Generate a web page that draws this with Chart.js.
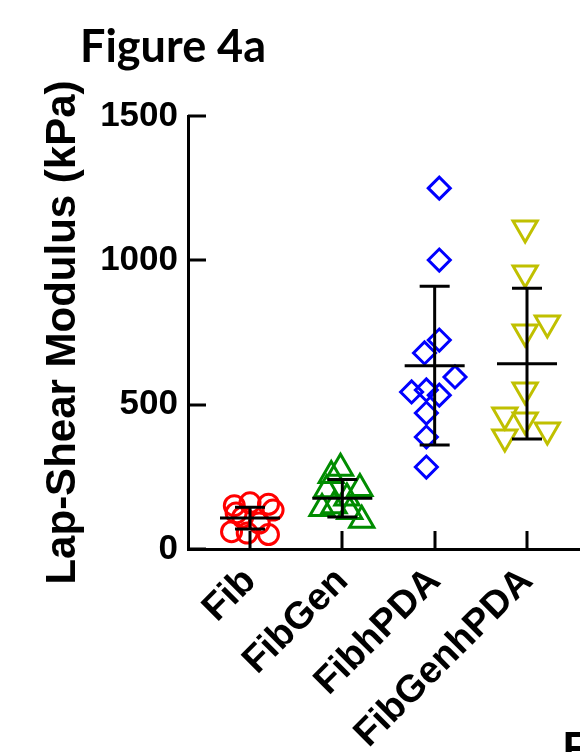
<!DOCTYPE html>
<html>
<head>
<meta charset="utf-8">
<script src="https://cdn.jsdelivr.net/npm/chart.js@4"></script>
<style>
  html, body { margin: 0; padding: 0; background: #fff; }
  canvas { display: block; }
</style>
</head>
<body>
<canvas id="fig4a" width="580" height="752"></canvas>
<script>
// categories and y ticks
var groups = ['Fib', 'FibGen', 'FibhPDA', 'FibGenhPDA'];
var yTicks = [0, 500, 1000, 1500];

// individual samples (kPa) + horizontal scatter offset (category units)
var fibVals = [160, 155, 150, 135, 125, 110, 90, 60, 55, 50];
var fibJitter = [0.0, 0.2, -0.17, 0.25, -0.15, -0.08, 0.1, -0.2, -0.03, 0.2];
var fibGenVals = [280, 255, 210, 205, 177, 150, 140, 130, 100];
var fibGenJitter = [-0.02, -0.12, 0.19, -0.17, 0.05, -0.09, -0.22, 0.08, 0.21];
var fibhPDAVals = [1250, 1001, 724, 679, 596, 544, 551, 533, 471, 388, 284];
var fibhPDAJitter = [0.05, 0.05, 0.05, -0.11, 0.22, -0.25, -0.09, 0.05, -0.09, -0.09, -0.09];
var fibGenhPDAVals = [1112, 956, 783, 752, 551, 464, 447, 412, 388];
var fibGenhPDAJitter = [-0.02, -0.02, 0.22, -0.02, -0.02, -0.24, -0.02, 0.22, -0.24];

// mean +/- SD bars
var groupMeans = [107, 176, 635, 642];
var groupSD = [38, 65, 275, 261];

function points(idx, vals, jit) {
  return vals.map(function(v, k) { return {x: idx + 1 + jit[k], y: v}; });
}

var axisFont = 'Liberation Sans, Arial, sans-serif';

var inwardTicks = {
  id: 'inwardTicks',
  afterDraw: function(chart) {
    var c = chart.ctx, xs = chart.scales.x, ys = chart.scales.y;
    var a = chart.chartArea;
    c.save();
    c.strokeStyle = '#000';
    c.lineWidth = 3;
    c.beginPath();
    yTicks.forEach(function(t) {
      var py = Math.round(ys.getPixelForValue(t));
      c.moveTo(a.left, py);
      c.lineTo(a.left + 18, py);
    });
    groups.forEach(function(g, i) {
      var px = Math.round(xs.getPixelForValue(i + 1));
      c.moveTo(px, a.bottom);
      c.lineTo(px, a.bottom - 18);
    });
    c.stroke();
    c.restore();
  }
};

var errorBars = {
  id: 'errorBars',
  afterDatasetsDraw: function(chart) {
    var c = chart.ctx, xs = chart.scales.x, ys = chart.scales.y;
    c.save();
    c.strokeStyle = '#000';
    c.lineWidth = 3;
    groups.forEach(function(g, i) {
      var px = xs.getPixelForValue(i + 1);
      var pm = ys.getPixelForValue(groupMeans[i]);
      var ph = ys.getPixelForValue(groupMeans[i] + groupSD[i]);
      var pl = ys.getPixelForValue(groupMeans[i] - groupSD[i]);
      c.beginPath();
      c.moveTo(px, ph); c.lineTo(px, pl);
      c.moveTo(px - 30, pm); c.lineTo(px + 30, pm);
      c.moveTo(px - 15, ph); c.lineTo(px + 15, ph);
      c.moveTo(px - 15, pl); c.lineTo(px + 15, pl);
      c.stroke();
    });
    c.restore();
  }
};

var figText = {
  id: 'figText',
  afterDraw: function(chart) {
    var c = chart.ctx;
    c.save();
    c.fillStyle = '#000';
    c.font = 'bold 45px Lato';
    c.textBaseline = 'alphabetic';
    c.fillText('Figure 4a', 80, 62);
    c.fillText('F', 562, 765);
    c.restore();
  }
};

var ctx = document.getElementById('fig4a');
var myChart = new Chart(ctx, {
  type: 'scatter',
  data: {
    datasets: [{
      data: points(0, fibVals, fibJitter),
      pointStyle: 'circle',
      pointRadius: 10,
      borderColor: 'rgb(255, 0, 0)'
    }, {
      data: points(1, fibGenVals, fibGenJitter),
      pointStyle: 'triangle',
      pointRadius: 14,
      borderColor: 'rgb(0, 140, 0)'
    }, {
      data: points(2, fibhPDAVals, fibhPDAJitter),
      pointStyle: 'rectRot',
      pointRadius: 11,
      borderColor: 'rgb(0, 0, 255)'
    }, {
      data: points(3, fibGenhPDAVals, fibGenhPDAJitter),
      pointStyle: 'triangle',
      pointRotation: 180,
      pointRadius: 14,
      borderColor: 'rgb(192, 192, 0)'
    }]
  },
  options: {
    responsive: false,
    animation: false,
    layout: { autoPadding: false, padding: { top: 116, right: 0, left: 0, bottom: 0 } },
    elements: {
      point: { borderWidth: 3, backgroundColor: 'rgba(0,0,0,0)', hoverRadius: 0 }
    },
    plugins: {
      legend: { display: false },
      tooltip: { enabled: false }
    },
    scales: {
      x: {
        type: 'linear',
        min: 0.3285,
        max: 4.574,
        afterBuildTicks: function(scale) {
          scale.ticks = groups.map(function(g, i) { return {value: i + 1}; });
        },
        afterFit: function(scale) {
          scale.height = 203;
          scale.paddingLeft = 0;
          scale.paddingRight = 0;
        },
        grid: { display: false, drawTicks: false },
        border: { display: true, color: '#000', width: 3 },
        ticks: {
          color: '#000',
          font: { family: axisFont, size: 38, weight: 'bold' },
          minRotation: 45,
          maxRotation: 45,
          padding: 10,
          callback: function(v) { return groups[Math.round(v) - 1]; }
        }
      },
      y: {
        min: 0,
        max: 1500,
        afterBuildTicks: function(scale) {
          scale.ticks = yTicks.map(function(t) { return {value: t}; });
        },
        afterFit: function(scale) {
          scale.width = 188;
          scale.paddingTop = 0;
          scale.paddingBottom = 0;
        },
        grid: { display: false, drawTicks: false },
        border: { display: true, color: '#000', width: 3 },
        ticks: {
          color: '#000',
          font: { family: axisFont, size: 35, weight: 'bold' },
          padding: 10,
          callback: function(v) { return String(v); }
        },
        title: {
          display: true,
          text: 'Lap-Shear Modulus (kPa)',
          color: '#000',
          font: { family: axisFont, size: 42, weight: 'bold', lineHeight: 1.2 },
          padding: { top: 38, bottom: 0 }
        }
      }
    }
  },
  plugins: [errorBars, inwardTicks, figText]
});
</script>
</body>
</html>
